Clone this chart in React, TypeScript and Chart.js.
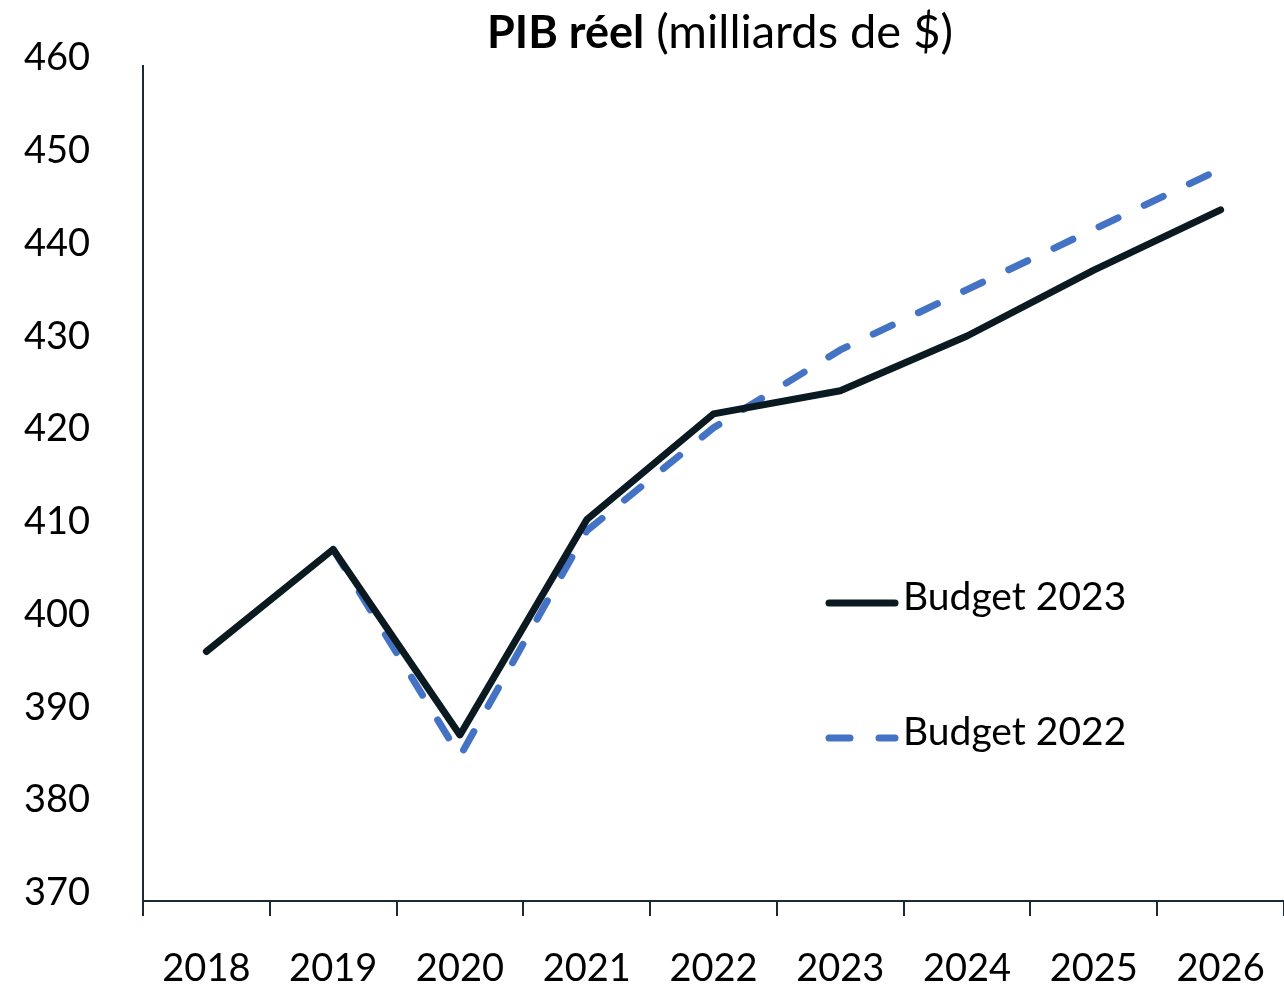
import React, { useEffect, useRef } from "react";
import { Chart, registerables } from "chart.js";

Chart.register(...registerables);

const years = ["2018", "2019", "2020", "2021", "2022", "2023", "2024", "2025", "2026"];
const budget2023 = [396.9, 407.9, 387.9, 411.1, 422.5, 425.0, 430.9, 438.0, 444.5];
const budget2022 = [null, 407.9, 385.6, 409.9, 421.0, 429.4, 435.9, 442.4, 448.9];
const seriesLabels = ["Budget 2023", "Budget 2022"];
const titleBold = "PIB réel";
const titleRest = " (milliards de $)";

const FONT = "Lato, 'Open Sans', sans-serif";
const DARK = "#0b1a20";
const BLUE = "#4472c4";
const AXIS = "#1c2b33";

const overlayPlugin = {
  id: "overlay",
  afterDraw(chart: any) {
    const ctx = chart.ctx;
    ctx.save();
    // title
    ctx.textBaseline = "alphabetic";
    ctx.fillStyle = "#000";
    ctx.font = `bold 45px ${FONT}`;
    const w1 = ctx.measureText(titleBold).width;
    ctx.font = `47px ${FONT}`;
    const w2 = ctx.measureText(titleRest).width;
    const cx = 720;
    const x0 = cx - (w1 + w2) / 2;
    ctx.font = `bold 45px ${FONT}`;
    ctx.textAlign = "left";
    ctx.fillText(titleBold, x0, 48);
    ctx.font = `47px ${FONT}`;
    ctx.fillText(titleRest, x0 + w1, 48);

    // legend
    const items = [
      { y: 603, color: DARK, dash: [] as number[], label: seriesLabels[0] },
      { y: 738, color: BLUE, dash: [21, 29], label: seriesLabels[1] },
    ];
    items.forEach((it) => {
      ctx.beginPath();
      ctx.setLineDash(it.dash);
      ctx.lineCap = "round";
      ctx.lineWidth = 7;
      ctx.strokeStyle = it.color;
      ctx.moveTo(829, it.y);
      ctx.lineTo(895, it.y);
      ctx.stroke();
      ctx.setLineDash([]);
      ctx.font = `39px ${FONT}`;
      ctx.fillStyle = "#000";
      ctx.textBaseline = "middle";
      ctx.fillText(it.label, 903, it.y - 6);
    });
    ctx.restore();
  },
};

export default function App() {
  const ref = useRef<HTMLCanvasElement>(null);
  useEffect(() => {
    if (!ref.current) return;
    const chart = new Chart(ref.current, {
      type: "line",
      data: {
        labels: years,
        datasets: [
          {
            label: seriesLabels[0],
            data: budget2023,
            borderColor: DARK,
            borderWidth: 7,
            borderCapStyle: "round",
            borderJoinStyle: "round",
            pointRadius: 0,
            tension: 0,
            fill: false,
          },
          {
            label: seriesLabels[1],
            data: budget2022 as any,
            borderColor: BLUE,
            borderWidth: 7,
            borderDash: [21, 29],
            borderCapStyle: "round",
            borderJoinStyle: "round",
            pointRadius: 0,
            tension: 0,
            fill: false,
          },
        ],
      },
      options: {
        responsive: false,
        animation: false,
        layout: { padding: { top: 66, left: 0, right: 0, bottom: 0 } },
        plugins: { legend: { display: false }, title: { display: false }, tooltip: { enabled: false } },
        scales: {
          x: {
            offset: true,
            grid: {
              display: true,
              offset: true,
              drawOnChartArea: false,
              drawTicks: true,
              tickLength: 15,
              color: AXIS,
              lineWidth: 2,
            },
            border: { display: true, color: AXIS, width: 2 },
            ticks: { color: "#000", font: { family: FONT, size: 38 }, padding: 30, maxRotation: 0 },
            afterFit(scale: any) {
              scale.height = 86;
              scale.paddingLeft = 0;
              scale.paddingRight = 0;
            },
          },
          y: {
            min: 370,
            max: 460,
            grid: { display: true, drawOnChartArea: false, drawTicks: false },
            border: { display: true, color: AXIS, width: 2 },
            ticks: {
              stepSize: 10,
              color: "#000",
              font: { family: FONT, size: 38 },
              padding: 53,
              labelOffset: -8,
            },
            afterFit(scale: any) {
              scale.width = 143;
              scale.paddingTop = 0;
              scale.paddingBottom = 0;
            },
          },
        },
      },
      plugins: [overlayPlugin],
    });
    return () => chart.destroy();
  }, []);
  return (
    <div style={{ position: "absolute", left: 0, top: 0, width: 1284, height: 987, background: "#fff" }}>
      <canvas ref={ref} width={1284} height={987} />
    </div>
  );
}
